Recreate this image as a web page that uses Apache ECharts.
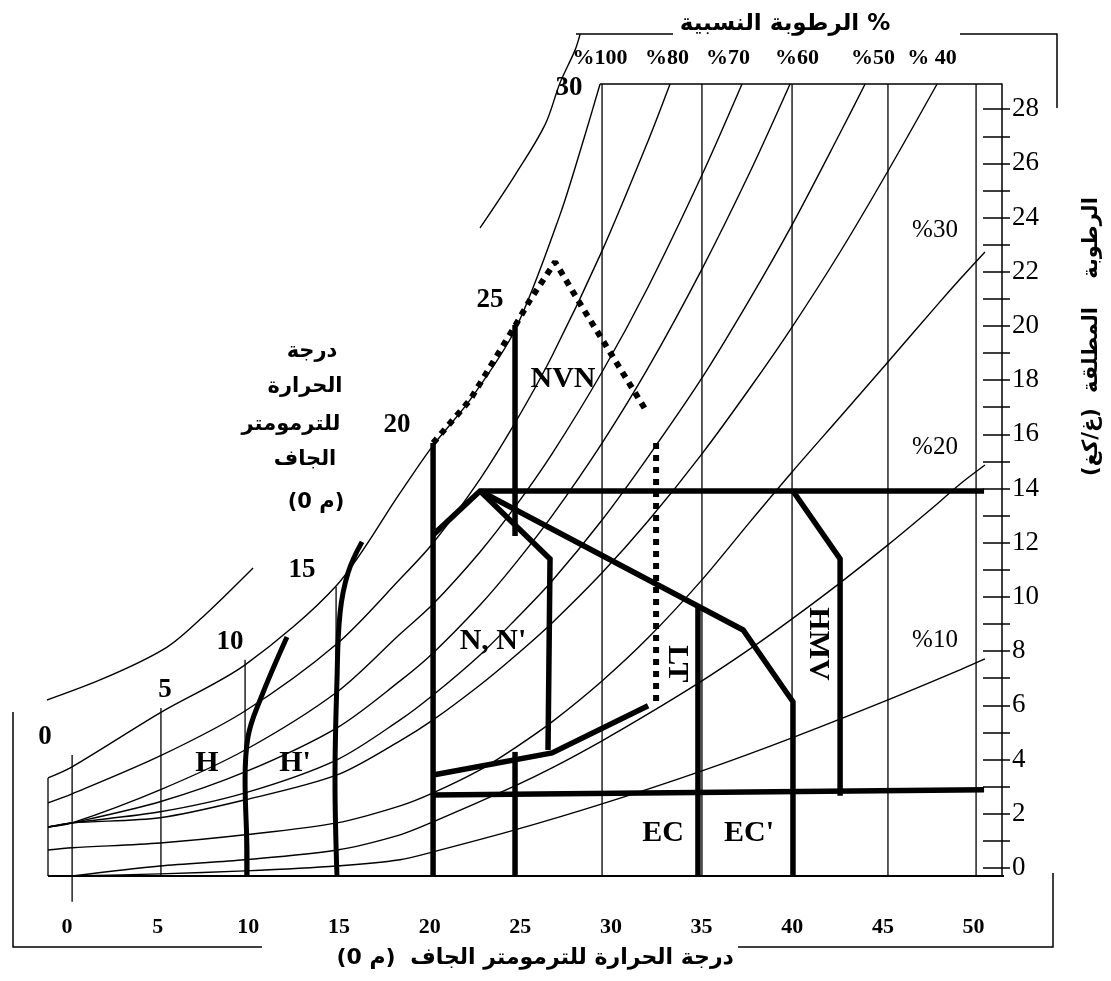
<!DOCTYPE html>
<html><head><meta charset="utf-8">
<script src="https://cdn.jsdelivr.net/npm/echarts@6/dist/echarts.min.js"></script>
<style>html,body{margin:0;padding:0;background:#fff}#c{width:1111px;height:981px}</style>
</head><body><div id="c"></div>
<script>
// ---------- DATA (dry-bulb temperature °C, absolute humidity g/kg) ----------
const xTickLabels = [0,5,10,15,20,25,30,35,40,45,50];
const yTickLabels = [0,2,4,6,8,10,12,14,16,18,20,22,24,26,28];
const yTicks = [0,1,2,3,4,5,6,7,8,9,10,11,12,13,14,15,16,17,18,19,20,21,22,23,24,25,26,27,28];

// relative humidity curves
const rh100 = [[-1.05,3.32],[0.28,3.73],[5.13,5.72],[9.82,7.49],[14.89,10.44],[18.37,13.84],[20.13,15.54],[22.23,17.27],[24.71,19.85],[27.19,24.10],[28.57,27.05],[29.40,28.93]];
const rh80  = [[-1.05,2.40],[0.28,2.73],[5.13,4.13],[9.82,5.79],[14.89,8.27],[18.37,10.66],[20.19,11.99],[22.78,14.35],[24.71,16.42],[26.75,18.89],[29.51,22.77],[32.05,26.83],[33.26,28.93]];
const rh70  = [[-1.05,1.51],[0.28,1.66],[5.13,2.88],[9.82,4.35],[14.89,6.49],[18.37,8.63],[20.19,9.74],[22.78,11.66],[24.71,13.32],[26.75,15.28],[29.51,18.30],[32.05,21.44],[35.02,25.57],[37.23,28.93]];
const rh60  = [[-1.05,1.51],[0.28,1.66],[5.13,2.44],[9.82,3.54],[14.89,5.17],[18.37,6.90],[20.19,7.93],[22.78,9.70],[24.71,11.22],[26.75,12.99],[29.51,15.68],[32.05,18.45],[35.02,22.10],[37.67,25.68],[39.88,28.93]];
const rh50  = [[-1.05,1.51],[0.28,1.66],[5.13,2.07],[9.82,2.77],[14.89,3.99],[18.37,5.46],[20.19,6.38],[22.78,7.86],[24.71,9.15],[26.75,10.59],[29.51,12.84],[32.05,15.17],[35.02,18.08],[37.67,21.00],[39.99,23.73],[42.64,27.12],[44.02,28.93]];
const rh40  = [[-1.05,1.51],[0.28,1.66],[5.13,1.85],[9.82,2.51],[14.89,3.43],[18.37,4.69],[20.19,5.46],[22.78,6.75],[24.71,7.82],[26.75,9.04],[29.51,10.89],[32.05,12.80],[35.02,15.28],[37.67,17.71],[39.99,19.96],[42.64,22.73],[45.28,25.72],[47.99,28.93]];
const rh30  = [[-1.05,0.66],[0.28,0.74],[5.13,0.92],[9.82,1.22],[14.89,1.66],[18.37,2.29],[20.19,2.77],[22.78,3.62],[24.71,4.43],[26.75,5.39],[29.51,6.90],[32.05,8.49],[35.02,10.63],[37.67,12.77],[39.99,14.61],[42.64,16.64],[45.28,18.67],[47.99,20.77],[49.26,21.73],[50.63,22.73]];
const rh20  = [[0.28,-0.30],[5.13,0.07],[9.82,0.30],[14.89,0.66],[18.37,1.22],[20.19,1.70],[24.71,3.03],[26.75,3.69],[29.51,4.69],[32.05,5.68],[35.02,6.90],[37.67,8.08],[39.99,9.19],[42.64,10.52],[45.28,11.92],[47.99,13.43],[49.26,14.17],[50.63,14.87]];
const rh10  = [[0.28,-0.30],[5.13,-0.22],[9.82,-0.11],[14.89,0.07],[18.37,0.30],[20.19,0.59],[24.71,1.40],[29.51,2.36],[35.02,3.58],[39.99,4.80],[45.28,6.20],[49.26,7.31],[50.63,7.71]];

// outer label curves
const outerA = [[-2.98,5.76],[1.82,6.94],[5.52,8.15],[7.72,9.41],[10.26,11.07]];
const outerB = [[22.78,23.62],[24.71,25.57],[26.36,27.42],[27.19,28.97],[28.02,30.18],[28.30,30.77]];

// thin dry-bulb verticals [temp, bottom, top]
const dryLines = [[-1.05,-0.30,3.32],[0.28,-1.25,4.17],[5.18,-0.30,5.90],[9.82,-0.30,7.68],[14.84,-0.30,10.37],
  [29.51,-0.30,28.93],[35.02,-0.30,28.93],[39.99,-0.30,28.93],[45.28,-0.30,28.93],[50.14,-0.30,28.93]];
const topFrame = [[29.40,28.93],[51.57,28.93]];
const baseLine = [[-1.05,-0.30],[51.90,-0.30]];

// bioclimatic zone boundaries
const zoneH     = [[12.13,8.52],[10.65,6.20],[9.98,4.83],[9.82,3.25],[9.93,0.30],[9.93,-0.30]];
const zoneH2    = [[16.27,12.03],[15.50,10.89],[15.06,9.41],[14.89,6.94],[14.78,3.25],[14.89,-0.30]];
const zoneNLeft = [[20.19,15.68],[20.19,-0.30]];
const zoneNTop  = [[20.19,12.29],[22.78,13.91],[50.58,13.91]];
const zoneNRight= [[22.78,13.91],[26.64,11.40],[26.53,4.35]];
const zoneNLow  = [[20.19,3.43],[26.75,4.24],[32.05,5.98]];
const zoneLong  = [[22.78,13.91],[37.29,8.78],[40.04,6.13],[40.04,-0.30]];
const zoneEC    = [[34.80,9.63],[34.80,-0.30]];
const zoneLT    = [[32.49,15.68],[32.49,6.13]];
const zoneNVN   = [[24.71,20.04],[24.71,12.25]];
const zoneNVNdot= [[20.19,15.68],[22.23,17.27],[24.71,20.00],[25.54,20.96],[26.92,22.36],[28.41,20.70],[31.88,16.94]];
const zone25Low = [[24.71,4.28],[24.71,-0.30]];
const zoneHMV   = [[40.04,13.91],[42.64,11.40],[42.64,2.66]];
const zoneLow2  = [[20.19,2.69],[50.58,2.88]];

// ---------- CHART ----------
const SERIF = '"Liberation Serif","Times New Roman","DejaVu Serif",serif';
const AR = '"DejaVu Sans","Noto Sans",sans-serif';
function line(data, width, opts) {
  return Object.assign({type:'line', data:data, showSymbol:false, symbol:'none', clip:false, silent:true,
    animation:false, smooth:false, lineStyle:{color:'#000', width:width, cap:'butt', join:'miter'}, z:2}, opts||{});
}
const series = [];
[rh100, rh80, rh70, rh60, rh50, rh40, rh30, rh20, rh10, outerA].forEach(d => series.push(line(d, 1.4, {smooth:0.3})));
series.push(line(outerB, 1.4, {smooth:0.35}));
dryLines.forEach(d => series.push(line([[d[0], d[1]], [d[0], d[2]]], 1.3)));
series.push(line(topFrame, 1.5));
series.push(line(baseLine, 1.8));
series.push(line(zoneH, 5, {smooth:0.4, z:3}));
series.push(line(zoneH2, 5, {smooth:0.4, z:3}));
[zoneNLeft, zoneNTop, zoneNRight, zoneNLow, zoneLong, zoneEC, zoneNVN, zone25Low, zoneHMV, zoneLow2]
  .forEach(d => series.push(line(d, 5.5, {z:3})));
series.push(line(zoneLT, 6, {z:3, lineStyle:{color:'#000', width:6, type:[6,6], cap:'butt'}}));
series.push(line(zoneNVNdot, 6, {z:3, lineStyle:{color:'#000', width:6, type:[6,6], cap:'butt'}}));

function txt(t, x, y, font, opts) {
  return Object.assign({type:'text', x:x, y:y, silent:true, z:10,
    style:{text:t, font:font, fill:'#000', align:'center', verticalAlign:'middle', textAlign:'center', textVerticalAlign:'middle'}}, opts||{});
}
const B26 = 'bold 27px ' + SERIF, B30 = 'bold 30px ' + SERIF, B22 = 'bold 22px ' + SERIF;
const graphics = [
  txt('0', 45, 737, B26), txt('5', 165, 690, B26), txt('10', 230, 642, B26), txt('15', 302, 570, B26),
  txt('20', 397, 425, B26), txt('25', 490, 300, B26), txt('30', 569, 88, B26),
  txt('H', 207, 763, B30), txt("H'", 295, 763, B30), txt("N, N'", 493, 641, B30), txt('NVN', 563, 379, B30),
  txt('EC', 663, 833, B30), txt("EC'", 749, 833, B30),
  txt('LT', 677, 664, B30, {rotation:-Math.PI/2}),
  txt('HMV', 818, 644, B30, {rotation:-Math.PI/2}),
  txt('%30', 935, 230, '25px ' + SERIF), txt('%20', 935, 447, '25px ' + SERIF), txt('%10', 935, 640, '25px ' + SERIF),
  txt('%100', 600, 58, B22), txt('%80', 667, 58, B22), txt('%70', 728, 58, B22), txt('%60', 797, 58, B22),
  txt('%50', 873, 58, B22), txt('% 40', 932, 58, B22),
  txt('الرطوبة النسبية %', 785, 24, 'bold 23px ' + AR),
  txt('درجة الحرارة للترمومتر الجاف', 572, 958, 'bold 22px ' + AR),
  txt('(0 م)', 366, 958, 'bold 22px ' + AR),
  txt('الرطوبة', 1092, 238, 'bold 21px ' + AR, {rotation:Math.PI/2}),
  txt('المطلقة', 1092, 350, 'bold 21px ' + AR, {rotation:Math.PI/2}),
  txt('(غ/كغ)', 1092, 442, 'bold 21px ' + AR, {rotation:Math.PI/2}),
  txt('درجة', 312, 352, 'bold 21px ' + AR), txt('الحرارة', 305, 387, 'bold 21px ' + AR),
  txt('للترمومتر', 291, 425, 'bold 21px ' + AR), txt('الجاف', 305, 460, 'bold 21px ' + AR),
  txt('(0 م)', 316, 503, 'bold 21px ' + AR),
  {type:'polyline', silent:true, shape:{points:[[673,34],[576,34]]}, style:{stroke:'#000', lineWidth:1.5, fill:null}},
  {type:'polyline', silent:true, shape:{points:[[960,34],[1057,34],[1057,108]]}, style:{stroke:'#000', lineWidth:1.5, fill:null}},
  {type:'polyline', silent:true, shape:{points:[[13,712],[13,947],[262,947]]}, style:{stroke:'#000', lineWidth:1.5, fill:null}},
  {type:'polyline', silent:true, shape:{points:[[738,947],[1053,947],[1053,873]]}, style:{stroke:'#000', lineWidth:1.5, fill:null}}
];

const chart = echarts.init(document.getElementById('c'), null, {renderer:'canvas'});
chart.setOption({
  animation:false,
  backgroundColor:'#fff',
  grid:{left:48, right:109, top:84, bottom:105, containLabel:false},
  xAxis:{type:'value', min:-1.05, max:51.57, axisLine:{show:false, onZero:false}, axisTick:{show:false}, splitLine:{show:false},
    axisLabel:{customValues:xTickLabels, margin:40, fontFamily:SERIF, fontWeight:'bold', fontSize:22, color:'#000'}},
  yAxis:[
    {type:'value', position:'right', min:-0.3, max:28.93, splitLine:{show:false},
     axisLine:{show:true, onZero:false, lineStyle:{color:'#000', width:1.5}},
     axisTick:{show:true, inside:true, length:19, customValues:yTicks, lineStyle:{color:'#000', width:1.5}},
     axisLabel:{customValues:yTickLabels, margin:10, fontFamily:SERIF, fontSize:27, color:'#000'}},
    {type:'value', position:'right', min:-0.3, max:28.93, splitLine:{show:false},
     axisLine:{show:false, onZero:false},
     axisTick:{show:true, inside:false, length:8, customValues:yTicks, lineStyle:{color:'#000', width:1.5}},
     axisLabel:{show:false}}
  ],
  series:series,
  graphic:graphics
});
</script></body></html>
